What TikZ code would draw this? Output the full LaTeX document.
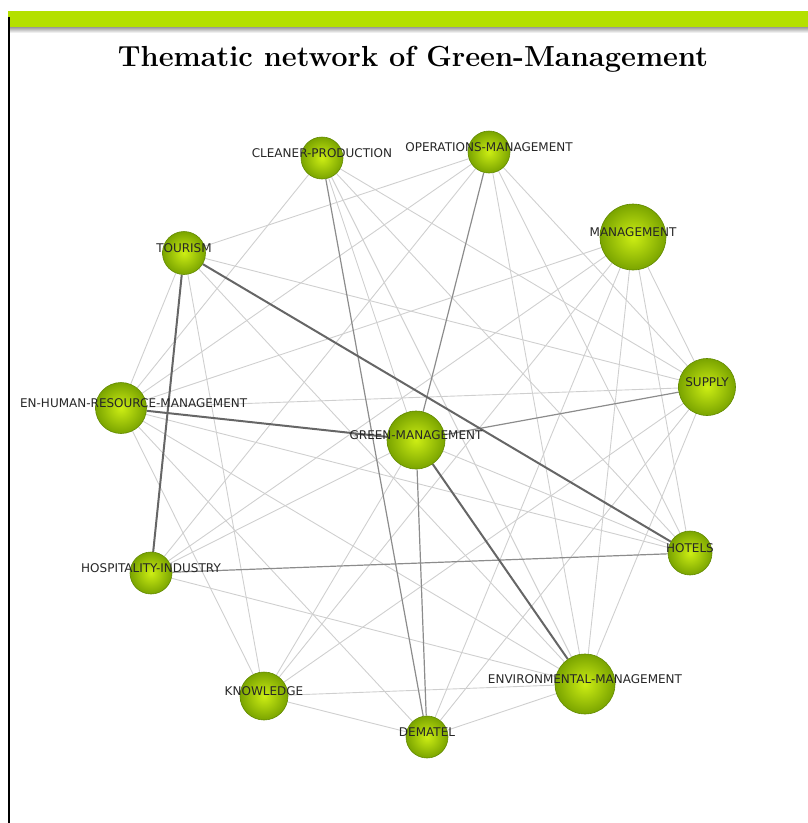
\documentclass[tikz,border=0pt]{standalone}
\usepackage{fontspec}
\usepackage{tikz}
\usetikzlibrary{backgrounds}
\newfontfamily\netfont{DejaVu Sans}

\definecolor{limebar}{HTML}{B4E000}
\definecolor{ballin}{HTML}{CDEE14}
\definecolor{ballout}{HTML}{7AA400}
\definecolor{ballrim}{HTML}{628A00}

\tikzset{
  ball/.style={circle,inner sep=0pt,draw=ballrim,line width=0.6pt,
    inner color=ballin,outer color=ballout,minimum size=#1},
  tag/.style={font=\netfont\fontsize{12}{12}\selectfont,text=black!85,inner sep=0pt,yshift=4.5pt},
  weak/.style={draw=black!19,line width=0.9pt},
  mid/.style={draw=black!45,line width=1.2pt},
  strong/.style={draw=black!60,line width=2pt},
}

\begin{document}
\begin{tikzpicture}[x=1pt,y=-1pt]
            \useasboundingbox (0,0) rectangle (808,823);

            % frame of the panel
            \fill[limebar] (8,11) rectangle (808,27);
            \shade[top color=black!40,bottom color=white] (8,27) rectangle (808,33);
            \draw[line width=2pt] (9,17) -- (9,823);
            \node[font=\fontsize{29}{34}\selectfont\bfseries] (title) at (413,59) {Thematic network of Green-Management};

            \begin{scope}
            \clip (20,30) rectangle (808,823);
            \node[ball=42,label={[tag]center:CLEANER-PRODUCTION}] (cp) at (322,158) {};
            \node[ball=42,label={[tag]center:OPERATIONS-MANAGEMENT}] (om) at (489,152) {};
            \node[ball=66,label={[tag]center:MANAGEMENT}] (mg) at (633,237) {};
            \node[ball=43,label={[tag]center:TOURISM}] (tr) at (184,253) {};
            \node[ball=57,label={[tag]center:SUPPLY}] (sp) at (707,387) {};
            \node[ball=51,label={[tag]center:GREEN-HUMAN-RESOURCE-MANAGEMENT}] (gh) at (121,408) {};
            \node[ball=58,label={[tag]center:GREEN-MANAGEMENT}] (gm) at (416,440) {};
            \node[ball=44,label={[tag]center:HOTELS}] (ht) at (690,553) {};
            \node[ball=42,label={[tag]center:HOSPITALITY-INDUSTRY}] (hi) at (151,573) {};
            \node[ball=60,label={[tag]center:ENVIRONMENTAL-MANAGEMENT}] (em) at (585,684) {};
            \node[ball=48,label={[tag]center:KNOWLEDGE}] (kn) at (264,696) {};
            \node[ball=42,label={[tag]center:DEMATEL}] (dm) at (427,737) {};
            \end{scope}

            % links, weakest first
            \begin{scope}[on background layer]
            \foreach \a/\b in {cp/gh,cp/gm,cp/em,cp/ht,cp/sp,
                               om/tr,om/gh,om/hi,om/em,om/ht,om/sp,
                               mg/gh,mg/kn,mg/dm,mg/em,mg/sp,mg/hi,mg/ht,
                               tr/sp,tr/em,tr/kn,tr/gh,
                               gh/sp,gh/em,gh/dm,gh/kn,gh/ht,
                               hi/gm,hi/em,kn/em,kn/dm,kn/gm,kn/sp,
                               dm/em,dm/sp,em/sp,gm/ht}
              \draw[weak] (\a) -- (\b);
            \foreach \a/\b in {hi/ht,cp/dm,om/gm,gm/sp,gm/dm}
              \draw[mid] (\a) -- (\b);
            \foreach \a/\b in {tr/ht,tr/hi,gh/gm,gm/em}
              \draw[strong] (\a) -- (\b);
            \end{scope}

        \end{tikzpicture}
\end{document}
